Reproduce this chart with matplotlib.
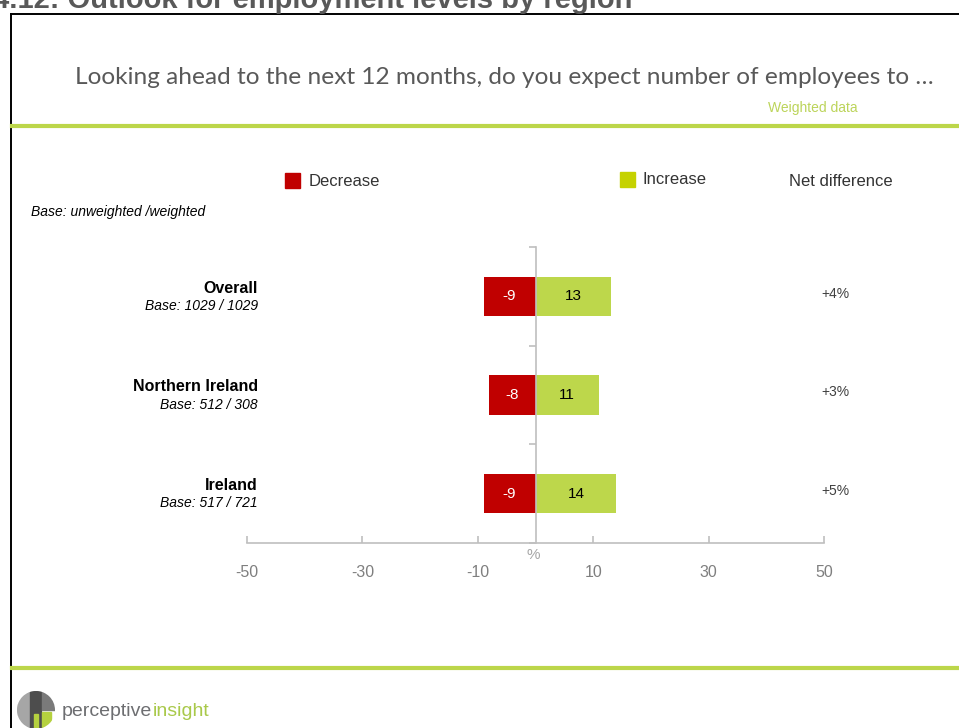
import matplotlib
matplotlib.use("Agg")
import matplotlib.pyplot as plt
from matplotlib.lines import Line2D
from matplotlib.patches import Rectangle, Circle

# Survey results (% of firms)
regions = ["Overall", "Northern Ireland", "Ireland"]
bases = ["Base: 1029 / 1029", "Base: 512 / 308", "Base: 517 / 721"]
decrease = [-9, -8, -9]
increase = [13, 11, 14]
x_ticks = [-50, -30, -10, 10, 30, 50]

RED = "#c00000"
GREEN = "#bdd74b"
LINE_GREEN = "#bcd64a"
AXIS_GREY = "#bfbfbf"

plt.rcParams["font.family"] = ["Liberation Sans", "DejaVu Sans"]

W, H = 959, 728
fig = plt.figure(figsize=(W / 100, H / 100), dpi=100)


def fx(px):
    return px / W


def fy(py):
    return 1 - py / H


# page furniture: heading running off the top, frame and green rules
fig.text(fx(632), fy(8), "4.12: Outlook for employment levels by region",
         ha="right", va="baseline", fontsize=21, fontweight="bold", color="#595959")
fig.add_artist(Line2D([fx(11), fx(11)], [fy(14), 0], color="black", lw=1.4,
                      transform=fig.transFigure))
fig.add_artist(Line2D([fx(11), 1], [fy(14), fy(14)], color="black", lw=1.4,
                      transform=fig.transFigure))
for yy in (126, 668):
    fig.add_artist(Line2D([fx(12), 1], [fy(yy), fy(yy)], color=LINE_GREEN, lw=3,
                          transform=fig.transFigure))

fig.text(fx(504), fy(77), "Looking ahead to the next 12 months, do you expect number of employees to \u2026",
         ha="center", va="center", fontsize=17.6, color="#595959", family=["Lato", "DejaVu Sans"])
fig.text(fx(858), fy(108), "Weighted data", ha="right", va="center", fontsize=10,
         color="#bcd45a", family=["Liberation Sans Narrow", "Liberation Sans"])

# legend row
fig.add_artist(Rectangle((fx(285), fy(188)), fx(15), 15 / H, color=RED, transform=fig.transFigure))
fig.text(fx(309), fy(181), "Decrease", ha="left", va="center", fontsize=12, color="#333333")
fig.add_artist(Rectangle((fx(620), fy(187)), fx(15), 15 / H, color="#c5d200", transform=fig.transFigure))
fig.text(fx(643), fy(180), "Increase", ha="left", va="center", fontsize=12, color="#333333")
fig.text(fx(789), fy(182), "Net difference", ha="left", va="center", fontsize=12, color="#333333")
fig.text(fx(31), fy(212), "Base: unweighted /weighted", ha="left", va="center",
         fontsize=10, style="italic", color="black")

# chart
ax = fig.add_axes([fx(247), fy(543), fx(824) - fx(247), (543 - 247) / H])
y = list(range(len(regions)))
ax.barh(y, decrease, height=0.4, color=RED, zorder=2)
ax.barh(y, increase, height=0.4, color=GREEN, zorder=2)

for i in y:
    ax.text(decrease[i] / 2, i, str(decrease[i]), ha="center", va="center",
            fontsize=11, color="white", zorder=3)
    ax.text(increase[i] / 2, i, str(increase[i]), ha="center", va="center",
            fontsize=11, color="black", zorder=3)
    ax.annotate(regions[i], xy=(0.019, i), xycoords=ax.get_yaxis_transform(),
                xytext=(0, 6), textcoords="offset points", ha="right", va="center",
                fontsize=11.5, fontweight="bold", color="black")
    ax.annotate(bases[i], xy=(0.019, i), xycoords=ax.get_yaxis_transform(),
                xytext=(0, -7), textcoords="offset points", ha="right", va="center",
                fontsize=10, style="italic", color="black")
    net = increase[i] + decrease[i]
    ax.annotate(f"{net:+d}%", xy=(1.02, i), xycoords=ax.get_yaxis_transform(),
                xytext=(0, 2), textcoords="offset points", ha="center", va="center",
                fontsize=10, color="#404040")

ax.set_xlim(-50, 50)
ax.set_ylim(len(regions) - 0.5, -0.5)
ax.set_xticks(x_ticks)
ax.set_xticklabels([str(t) for t in x_ticks])
ax.set_yticks([k - 0.5 for k in range(len(regions) + 1)])
ax.set_yticklabels([])
ax.spines["left"].set_position(("data", 0))
ax.spines["right"].set_visible(False)
ax.spines["top"].set_visible(False)
for side in ("left", "bottom"):
    ax.spines[side].set_color(AXIS_GREY)
    ax.spines[side].set_linewidth(1.2)
    ax.spines[side].set_zorder(4)
ax.tick_params(axis="x", direction="in", length=5, width=1.2, color=AXIS_GREY,
               labelcolor="#7f7f7f", labelsize=11.5, pad=16)
ax.tick_params(axis="y", direction="out", length=5, width=1.2, color=AXIS_GREY)
ax.patch.set_visible(False)
fig.text(fx(533), fy(555), "%", ha="center", va="center", fontsize=11, color="#a6a6a6")

# logo
lax = fig.add_axes([fx(17), fy(729), fx(38), 38 / H])
lax.set_xlim(-1, 1)
lax.set_ylim(-1, 1)
lax.axis("off")
clip = Circle((0, 0), 1, transform=lax.transData)
pieces = [
    ((-1.0, -1.0), 0.62, 2.0, "#a6a6a6"),
    ((-0.30, -1.0), 0.55, 2.0, "#4d4d4d"),
    ((0.33, 0.0), 0.70, 1.0, "#7a7a7a"),
    ((0.33, -1.0), 0.45, 0.9, "#b5d13f"),
    ((-0.12, -1.0), 0.22, 0.8, "#b5d13f"),
]
for (x0, y0), w, h, c in pieces:
    r = Rectangle((x0, y0), w, h, color=c)
    lax.add_patch(r)
    r.set_clip_path(clip)
t = fig.text(fx(62), fy(712), "perceptive", ha="left", va="center", fontsize=14, color="#6d6e71")
ax.annotate("insight", xy=(1, 0), xycoords=t, ha="left", va="bottom",
            fontsize=14, color="#a9c94a", annotation_clip=False)

fig.savefig("out.png", dpi=100)
